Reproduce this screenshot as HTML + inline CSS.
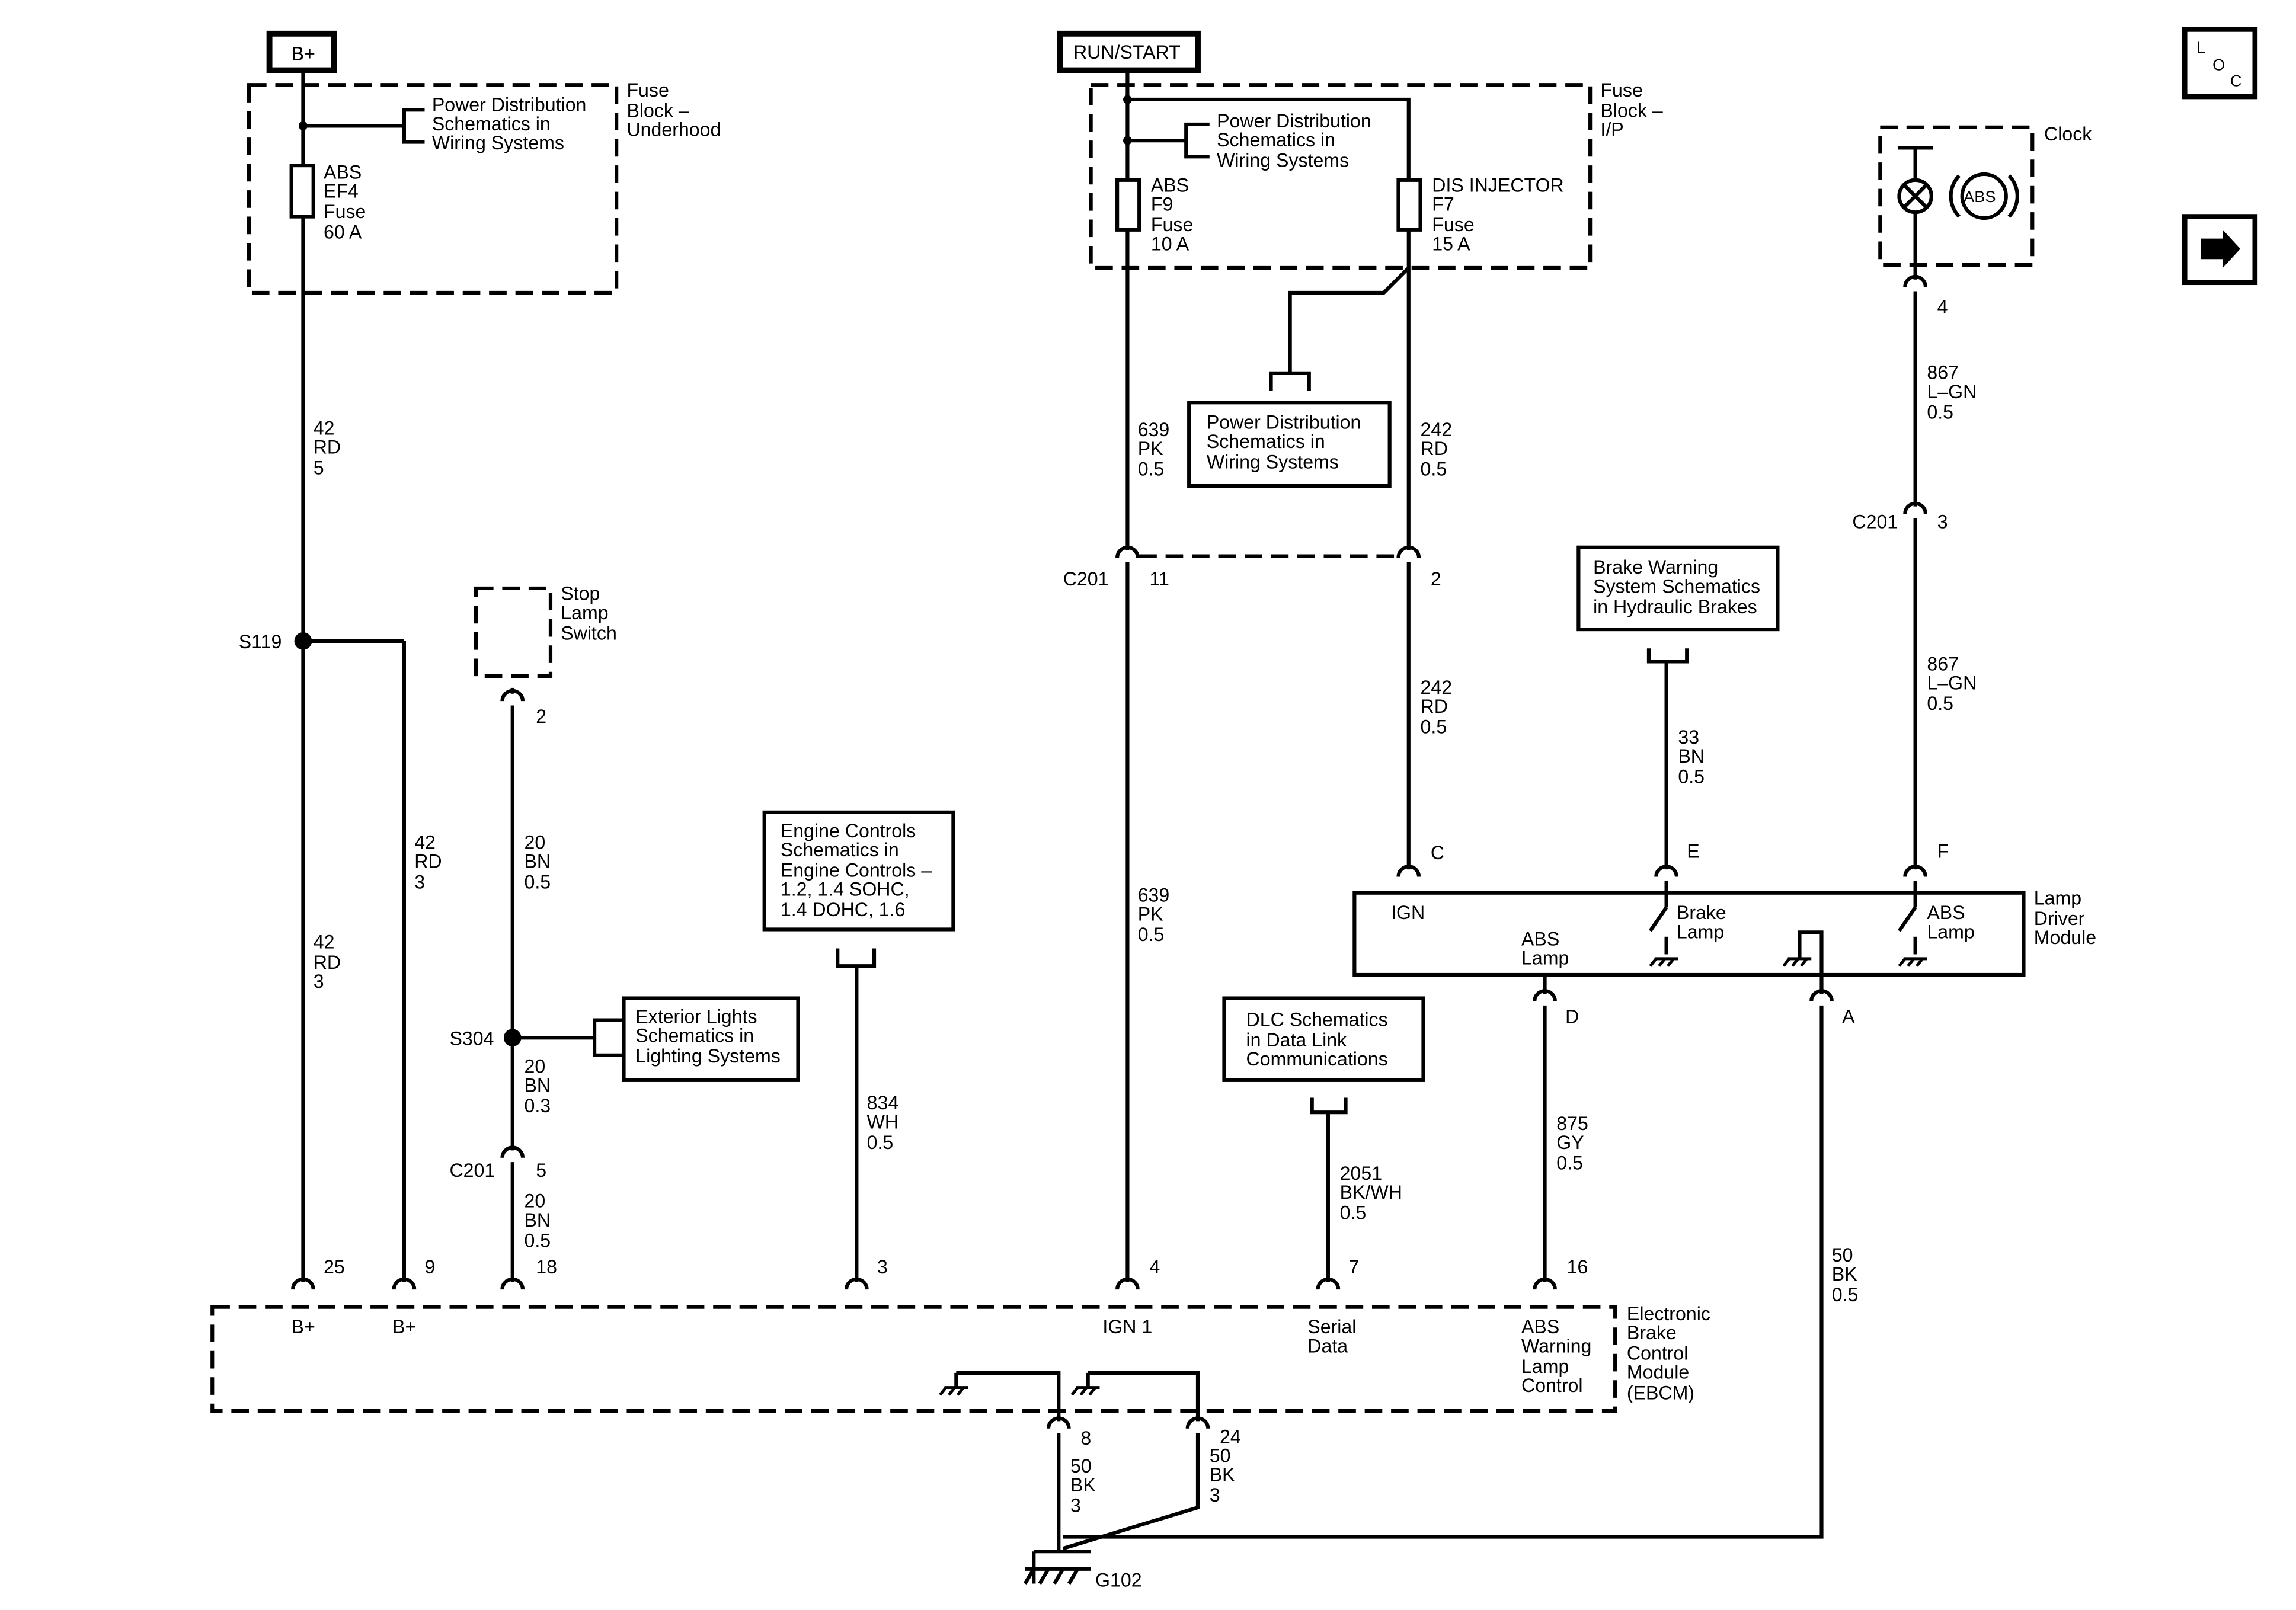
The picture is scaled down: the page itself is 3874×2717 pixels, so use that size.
<!DOCTYPE html>
<html><head><meta charset="utf-8"><style>
html,body{margin:0;padding:0;background:#fff;}
svg{display:block}
text{font-family:"Liberation Sans",Arial,sans-serif;font-size:13px;fill:#000}
</style></head><body>
<svg width="3874" height="2717" viewBox="0 0 1568 1100" preserveAspectRatio="none" xmlns="http://www.w3.org/2000/svg">
<defs>
<g id="cn"><path d="M-7 7 A7 7 0 0 1 7 7" fill="none" stroke="#000" stroke-width="2.5"/></g>
</defs>
<g fill="none" stroke="#000" stroke-width="2.5">
<rect x="184" y="23" width="44" height="25" stroke-width="4"/>
<rect x="724" y="23" width="94" height="25" stroke-width="4"/>
<g stroke-dasharray="12,6">
<rect x="170" y="58" width="251" height="142"/>
<rect x="745" y="58" width="341" height="125"/>
<rect x="325" y="402" width="51" height="60"/>
<rect x="1284" y="87" width="104" height="94"/>
<rect x="145" y="893" width="958" height="71"/>
<line x1="778" y1="380" x2="954" y2="380"/>
</g>
<line x1="207" y1="48" x2="207" y2="113"/>
<line x1="207" y1="148" x2="207" y2="876"/>
<rect x="199" y="113" width="15" height="35"/>
<line x1="207" y1="86" x2="276" y2="86"/>
<path d="M290 75 H276 V97 H290"/>
<line x1="207" y1="438" x2="276" y2="438"/><line x1="276" y1="438" x2="276" y2="876"/>
<line x1="350" y1="470" x2="350" y2="474"/>
<line x1="350" y1="482" x2="350" y2="786"/>
<line x1="350" y1="794" x2="350" y2="876"/>
<line x1="350" y1="709" x2="406" y2="709"/>
<path d="M426 697 H406 V721 H426"/>
<rect x="426" y="682" width="119" height="56"/>
<rect x="522" y="555" width="129" height="80"/>
<path d="M572 648 V660 H597 V648"/>
<line x1="585" y1="660" x2="585" y2="876"/>
<line x1="770" y1="48" x2="770" y2="123"/>
<line x1="770" y1="157" x2="770" y2="376"/>
<line x1="770" y1="384" x2="770" y2="876"/>
<rect x="763" y="123" width="15" height="34"/>
<path d="M770 68 H962 V123"/>
<rect x="955" y="123" width="15" height="34"/>
<line x1="962" y1="157" x2="962" y2="376"/>
<line x1="962" y1="384" x2="962" y2="594"/>
<line x1="770" y1="96" x2="810" y2="96"/>
<path d="M826 85 H810 V107 H826"/>
<path d="M962 183 L945 200 H881 V255"/>
<path d="M868 267 V255 H894 V267"/>
<rect x="812" y="275" width="137" height="57"/>
<rect x="925" y="610" width="457" height="56"/>
<rect x="1078" y="374" width="136" height="56"/>
<path d="M1126 443 V452 H1152 V443"/>
<line x1="1138" y1="452" x2="1138" y2="594"/>
<line x1="1138" y1="602" x2="1138" y2="620"/>
<line x1="1138" y1="620" x2="1127" y2="636"/>
<line x1="1138" y1="640" x2="1138" y2="652"/>
<line x1="1308" y1="181" x2="1308" y2="191"/>
<line x1="1308" y1="199" x2="1308" y2="346"/>
<line x1="1308" y1="354" x2="1308" y2="594"/>
<line x1="1308" y1="602" x2="1308" y2="620"/>
<line x1="1308" y1="620" x2="1297" y2="636"/>
<line x1="1308" y1="640" x2="1308" y2="652"/>
<path d="M1229 655 V637 H1244 V679"/>
<line x1="1055" y1="666" x2="1055" y2="679"/>
<line x1="1055" y1="687" x2="1055" y2="876"/>
<path d="M1244 687 V1050 H726"/>
<rect x="836" y="682" width="136" height="56"/>
<path d="M896 750 V760 H919 V750"/>
<line x1="907" y1="760" x2="907" y2="876"/>
<path d="M653 938 H723 V971"/>
<path d="M743 938 H818 V971"/>
<line x1="653" y1="938" x2="653" y2="948"/><line x1="743" y1="938" x2="743" y2="948"/>
<path d="M723 979 V1060"/>
<path d="M818 979 V1030 L726 1058"/>
<line x1="706" y1="1060" x2="745" y2="1060"/>
<line x1="706" y1="1060" x2="706" y2="1082"/>
<line x1="1296" y1="101" x2="1320" y2="101"/>
<line x1="1308" y1="101" x2="1308" y2="122"/>
<circle cx="1308" cy="134" r="11"/>
<line x1="1300" y1="126" x2="1316" y2="142"/><line x1="1316" y1="126" x2="1300" y2="142"/>
<line x1="1308" y1="145" x2="1308" y2="181"/>
<circle cx="1355" cy="134" r="15"/>
<path d="M1338 120 A20 20 0 0 0 1338 148"/><path d="M1372 120 A20 20 0 0 1 1372 148"/>
<rect x="1492" y="20" width="48" height="46" stroke-width="3.5"/>
<rect x="1492" y="148" width="48" height="45" stroke-width="3.5"/>
</g>
<g stroke="#000" stroke-width="2" fill="none">
<path d="M1130 655 H1146 M1131 655 l-4 5 M1137 655 l-4 5 M1143 655 l-4 5"/>
<path d="M1300 655 H1316 M1301 655 l-4 5 M1307 655 l-4 5 M1313 655 l-4 5"/>
<path d="M1221 655 H1237 M1222 655 l-4 5 M1228 655 l-4 5 M1234 655 l-4 5"/>
<path d="M645 948 H661 M646 948 l-4 5 M652 948 l-4 5 M658 948 l-4 5"/>
<path d="M735 948 H751 M736 948 l-4 5 M742 948 l-4 5 M748 948 l-4 5"/>
<path d="M706 1072 l-6 10 M716 1072 l-6 10 M726 1072 l-6 10 M736 1072 l-6 10 M700 1072 H745" stroke-width="2.5"/>
</g>
<path d="M1503 163 H1518 V157 L1530 170 L1518 183 V177 H1503 Z" fill="#000"/>
<g fill="#000"><circle cx="207" cy="86" r="3"/><circle cx="207" cy="438" r="6"/><circle cx="350" cy="709" r="6"/><circle cx="770" cy="68" r="3"/><circle cx="770" cy="96" r="3"/></g>
<use href="#cn" x="350" y="472"/><use href="#cn" x="350" y="784"/>
<use href="#cn" x="770" y="374"/><use href="#cn" x="962" y="374"/>
<use href="#cn" x="962" y="592"/><use href="#cn" x="1138" y="592"/><use href="#cn" x="1308" y="592"/>
<use href="#cn" x="1308" y="189"/><use href="#cn" x="1308" y="344"/>
<use href="#cn" x="1055" y="677"/><use href="#cn" x="1244" y="677"/>
<use href="#cn" x="207" y="874"/><use href="#cn" x="276" y="874"/><use href="#cn" x="350" y="874"/><use href="#cn" x="585" y="874"/><use href="#cn" x="770" y="874"/><use href="#cn" x="907" y="874"/><use href="#cn" x="1055" y="874"/>
<use href="#cn" x="723" y="969"/><use href="#cn" x="818" y="969"/>
<text x="199" y="41">B+</text>
<text x="733" y="40">RUN/START</text>
<g>
<text x="295" y="76">Power Distribution</text><text x="295" y="89">Schematics in</text><text x="295" y="102">Wiring Systems</text>
<text x="428" y="66">Fuse</text><text x="428" y="80">Block –</text><text x="428" y="93">Underhood</text>
<text x="221" y="122">ABS</text><text x="221" y="135">EF4</text><text x="221" y="149">Fuse</text><text x="221" y="163">60 A</text>
<text x="214" y="297">42</text><text x="214" y="310">RD</text><text x="214" y="324">5</text>
<text x="163" y="443">S119</text>
<text x="283" y="580">42</text><text x="283" y="593">RD</text><text x="283" y="607">3</text>
<text x="214" y="648">42</text><text x="214" y="662">RD</text><text x="214" y="675">3</text>
<text x="383" y="410">Stop</text><text x="383" y="423">Lamp</text><text x="383" y="437">Switch</text>
<text x="366" y="494">2</text>
<text x="358" y="580">20</text><text x="358" y="593">BN</text><text x="358" y="607">0.5</text>
<text x="307" y="714">S304</text>
<text x="434" y="699">Exterior Lights</text><text x="434" y="712">Schematics in</text><text x="434" y="726">Lighting Systems</text>
<text x="358" y="733">20</text><text x="358" y="746">BN</text><text x="358" y="760">0.3</text>
<text x="307" y="804">C201</text><text x="366" y="804">5</text>
<text x="358" y="825">20</text><text x="358" y="838">BN</text><text x="358" y="852">0.5</text>
<text x="221" y="870">25</text><text x="290" y="870">9</text><text x="366" y="870">18</text><text x="599" y="870">3</text><text x="785" y="870">4</text><text x="921" y="870">7</text><text x="1070" y="870">16</text>
<text x="199" y="911">B+</text><text x="268" y="911">B+</text><text x="753" y="911">IGN 1</text>
<text x="893" y="911">Serial</text><text x="893" y="924">Data</text>
<text x="1039" y="911">ABS</text><text x="1039" y="924">Warning</text><text x="1039" y="938">Lamp</text><text x="1039" y="951">Control</text>
<text x="1111" y="902">Electronic</text><text x="1111" y="915">Brake</text><text x="1111" y="929">Control</text><text x="1111" y="942">Module</text><text x="1111" y="956">(EBCM)</text>
<text x="533" y="572">Engine Controls</text><text x="533" y="585">Schematics in</text><text x="533" y="599">Engine Controls –</text><text x="533" y="612">1.2, 1.4 SOHC,</text><text x="533" y="626">1.4 DOHC, 1.6</text>
<text x="592" y="758">834</text><text x="592" y="771">WH</text><text x="592" y="785">0.5</text>
<text x="831" y="87">Power Distribution</text><text x="831" y="100">Schematics in</text><text x="831" y="114">Wiring Systems</text>
<text x="1093" y="66">Fuse</text><text x="1093" y="80">Block –</text><text x="1093" y="93">I/P</text>
<text x="786" y="131">ABS</text><text x="786" y="144">F9</text><text x="786" y="158">Fuse</text><text x="786" y="171">10 A</text>
<text x="978" y="131">DIS INJECTOR</text><text x="978" y="144">F7</text><text x="978" y="158">Fuse</text><text x="978" y="171">15 A</text>
<text x="824" y="293">Power Distribution</text><text x="824" y="306">Schematics in</text><text x="824" y="320">Wiring Systems</text>
<text x="777" y="298">639</text><text x="777" y="311">PK</text><text x="777" y="325">0.5</text>
<text x="970" y="298">242</text><text x="970" y="311">RD</text><text x="970" y="325">0.5</text>
<text x="726" y="400">C201</text><text x="785" y="400">11</text><text x="977" y="400">2</text>
<text x="970" y="474">242</text><text x="970" y="487">RD</text><text x="970" y="501">0.5</text>
<text x="777" y="616">639</text><text x="777" y="629">PK</text><text x="777" y="643">0.5</text>
<text x="977" y="587">C</text><text x="1152" y="586">E</text><text x="1323" y="586">F</text>
<text x="950" y="628">IGN</text>
<text x="1039" y="646">ABS</text><text x="1039" y="659">Lamp</text>
<text x="1145" y="628">Brake</text><text x="1145" y="641">Lamp</text>
<text x="1316" y="628">ABS</text><text x="1316" y="641">Lamp</text>
<text x="1389" y="618">Lamp</text><text x="1389" y="632">Driver</text><text x="1389" y="645">Module</text>
<text x="1088" y="392">Brake Warning</text><text x="1088" y="405">System Schematics</text><text x="1088" y="419">in Hydraulic Brakes</text>
<text x="1146" y="508">33</text><text x="1146" y="521">BN</text><text x="1146" y="535">0.5</text>
<text x="1396" y="96">Clock</text><text x="1341" y="138" style="font-size:11px">ABS</text>
<text x="1323" y="214">4</text>
<text x="1316" y="259">867</text><text x="1316" y="272">L–GN</text><text x="1316" y="286">0.5</text>
<text x="1265" y="361">C201</text><text x="1323" y="361">3</text>
<text x="1316" y="458">867</text><text x="1316" y="471">L–GN</text><text x="1316" y="485">0.5</text>
<text x="1069" y="699">D</text><text x="1258" y="699">A</text>
<text x="1063" y="772">875</text><text x="1063" y="785">GY</text><text x="1063" y="799">0.5</text>
<text x="1251" y="862">50</text><text x="1251" y="875">BK</text><text x="1251" y="889">0.5</text>
<text x="851" y="701">DLC Schematics</text><text x="851" y="715">in Data Link</text><text x="851" y="728">Communications</text>
<text x="915" y="806">2051</text><text x="915" y="819">BK/WH</text><text x="915" y="833">0.5</text>
<text x="738" y="987">8</text><text x="833" y="986">24</text>
<text x="731" y="1006">50</text><text x="731" y="1019">BK</text><text x="731" y="1033">3</text>
<text x="826" y="999">50</text><text x="826" y="1012">BK</text><text x="826" y="1026">3</text>
<text x="748" y="1084">G102</text>
<text x="1500" y="36" style="font-size:11px">L</text><text x="1511" y="48" style="font-size:11px">O</text><text x="1523" y="59" style="font-size:11px">C</text>
</g>
</svg>
</body></html>
